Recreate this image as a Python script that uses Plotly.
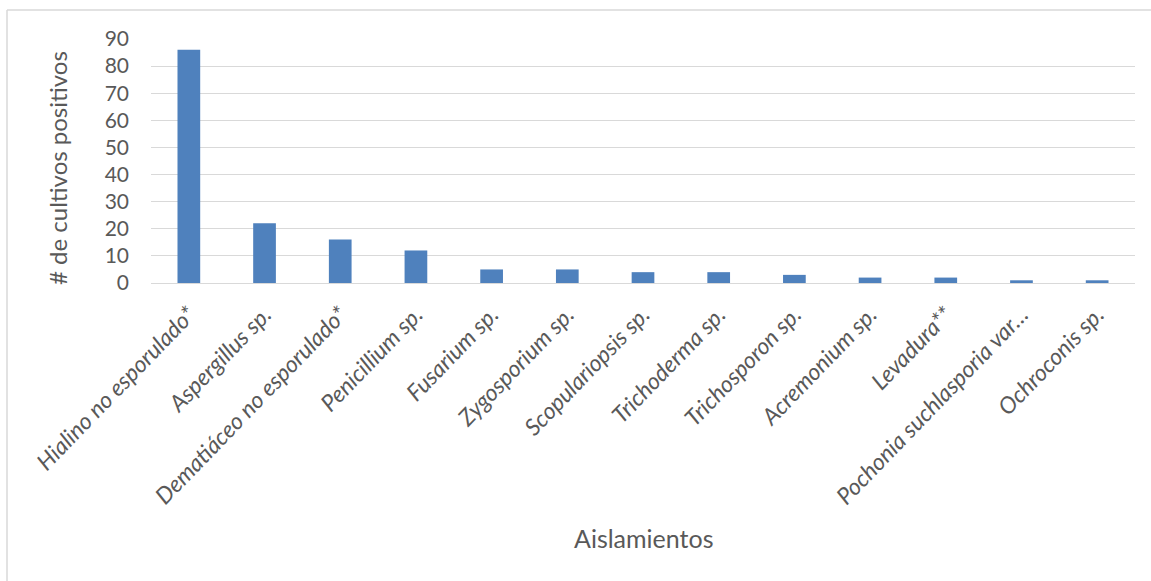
import plotly.graph_objects as go

categories = [
    "Hialino no esporulado*", "Aspergillus sp.", "Dematiáceo no esporulado*",
    "Penicillium sp.", "Fusarium sp.", "Zygosporium sp.", "Scopulariopsis sp.",
    "Trichoderma sp.", "Trichosporon sp.", "Acremonium sp.", "Levadura**",
    "Pochonia suchlasporia var…", "Ochroconis sp.",
]
values = [86, 22, 16, 12, 5, 5, 4, 4, 3, 2, 2, 1, 1]
y_ticks = [0, 10, 20, 30, 40, 50, 60, 70, 80, 90]

W, H = 1151, 581
L, R, T, B = 151, 1135, 39, 283
pw, ph = R - L, B - T

def px(x):
    return (x - L) / pw

def py(y):
    return (B - y) / ph

text_color = "#595959"
grid_color = "#d9d9d9"

fig = go.Figure(go.Bar(
    x=categories, y=values,
    marker=dict(color="#4f81bd", line=dict(width=0)),
))

fig.update_layout(
    width=W, height=H,
    margin=dict(l=L, r=W - R, t=T, b=H - B, autoexpand=False),
    paper_bgcolor="white", plot_bgcolor="white",
    bargap=0.7,
    showlegend=False,
    font=dict(family="Lato", color=text_color),
)
fig.update_xaxes(
    tickangle=-46,
    tickfont=dict(family="Lato", size=23, color=text_color, style="italic"),
    showgrid=False, showline=True, linecolor=grid_color, linewidth=1,
    ticks="outside", ticklen=8, tickcolor="rgba(0,0,0,0)", automargin=False,
)
fig.update_yaxes(
    range=[0, 90], tickvals=y_ticks,
    tickfont=dict(family="Lato", size=21, color=text_color),
    showgrid=True, gridcolor=grid_color, gridwidth=1,
    zeroline=False, showline=False, ticks="", ticklabelstandoff=21,
    automargin=False,
)

fig.add_annotation(
    text="# de cultivos positivos", textangle=-90,
    xref="paper", yref="paper", x=px(57), y=py(168),
    xanchor="center", yanchor="middle", showarrow=False,
    font=dict(family="Lato", size=24, color=text_color),
)
fig.add_annotation(
    text="Aislamientos",
    xref="paper", yref="paper", x=px(643), y=py(538),
    xanchor="center", yanchor="middle", showarrow=False,
    font=dict(family="Lato", size=25, color=text_color),
)

# outer chart border (top and left edges visible)
fig.add_shape(type="line", xref="paper", yref="paper",
              x0=px(7), x1=px(W + 5), y0=py(10), y1=py(10),
              line=dict(color=grid_color, width=1.5))
fig.add_shape(type="line", xref="paper", yref="paper",
              x0=px(7), x1=px(7), y0=py(10), y1=py(H + 5),
              line=dict(color=grid_color, width=1.5))

fig.write_html("out.html")
